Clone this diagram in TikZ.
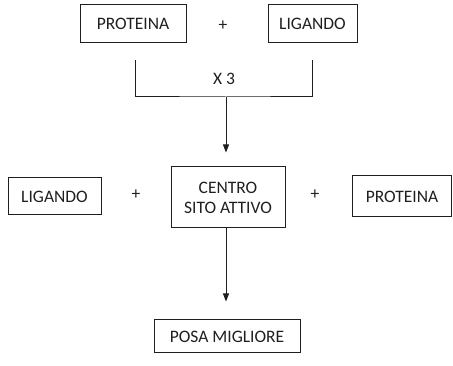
\documentclass[tikz,border=0pt]{standalone}
\usepackage{fontspec}
\setmainfont{Carlito}
\usetikzlibrary{arrows.meta}
\definecolor{ink}{HTML}{1f1f1f}
\begin{document}
\begin{tikzpicture}[x=1pt,y=-1pt,
  box/.style={draw=ink,line width=1pt,rectangle,inner sep=0pt,text=ink,font=\fontsize{17.5}{20}\selectfont,align=center},
  lbl/.style={text=ink,font=\fontsize{17.5}{20}\selectfont,inner sep=0pt},
  conn/.style={draw=ink,line width=1pt},
  arr/.style={conn,-{Triangle[length=8pt,width=6pt]}}]
\useasboundingbox (0,0) rectangle (453,366);
\node[box,minimum width=106pt,minimum height=38pt] (p1) at (133,24) {PROTEINA};
\node[lbl] (plus1) at (223,26) {+};
\node[box,minimum width=89pt,minimum height=38pt] (l1) at (312.5,24) {LIGANDO};
\coordinate (bl) at (135,60);
\coordinate (br) at (312,60);
\coordinate (j) at (226,97);
\node[lbl] (x3) at (224,79) {X 3};
\draw[conn] (bl) |- (j) -| (br);
\node[box,minimum width=93pt,minimum height=37pt] (l2) at (54.5,196.5) {LIGANDO};
\node[lbl] (plus2) at (136,195) {+};
\node[box,minimum width=114pt,minimum height=61pt] (c) at (228,197.5) {CENTRO\\SITO ATTIVO};
\node[lbl] (plus3) at (315,195) {+};
\node[box,minimum width=99pt,minimum height=41pt] (p2) at (402,196.5) {PROTEINA};
\node[box,minimum width=146pt,minimum height=33pt] (posa) at (227,336.5) {POSA MIGLIORE};
\draw[arr,shorten >=14pt] (j) -- (j |- c.north);
\draw[arr,shorten >=18pt] (c.south -| j) -- (posa.north -| j);
\end{tikzpicture}
\end{document}
